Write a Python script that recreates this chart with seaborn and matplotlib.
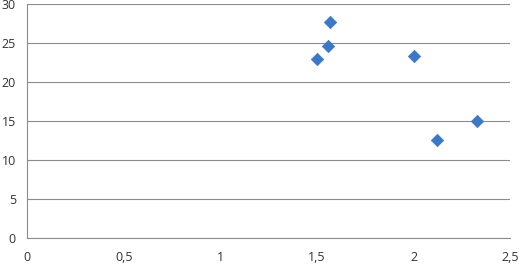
import matplotlib
matplotlib.use("Agg")
import matplotlib.pyplot as plt
import seaborn as sns
import pandas as pd
from matplotlib.ticker import FuncFormatter

x_values = [1.57, 1.56, 1.50, 2.00, 2.33, 2.12]
y_values = [27.7, 24.6, 23.0, 23.3, 15.0, 12.6]
x_ticks = [0, 0.5, 1, 1.5, 2, 2.5]
y_ticks = [0, 5, 10, 15, 20, 25, 30]

df = pd.DataFrame({"x": x_values, "y": y_values})

sns.set_theme(style="white")
plt.rcParams['font.family'] = ['Open Sans', 'DejaVu Sans']

fig = plt.figure(figsize=(5.19, 2.70), dpi=100)
ax = fig.add_axes([0.052, 0.117, 0.931, 0.868])

sns.scatterplot(data=df, x="x", y="y", ax=ax, marker="D", s=40,
                color="#3b78c6", edgecolor="#3b78c6", linewidth=0.5, zorder=3)

ax.set_xlim(0, 2.5)
ax.set_ylim(0, 30)
ax.set_xticks(x_ticks)
ax.set_yticks(y_ticks)
fmt = FuncFormatter(lambda v, p: ("%g" % v).replace(".", ","))
ax.xaxis.set_major_formatter(fmt)
ax.yaxis.set_major_formatter(fmt)
ax.set_xlabel("")
ax.set_ylabel("")

ax.yaxis.grid(True, color="#8c8c8c", linewidth=0.8)
ax.xaxis.grid(False)
for s in ["top", "right"]:
    ax.spines[s].set_visible(False)
for s in ["left", "bottom"]:
    ax.spines[s].set_color("#8c8c8c")
    ax.spines[s].set_linewidth(0.8)

ax.tick_params(axis="both", which="major", direction="out", length=3, width=0.8,
               color="#8c8c8c", labelsize=9, labelcolor="#333333", pad=5)
ax.tick_params(axis="x", pad=6)
for lbl in ax.get_yticklabels():
    lbl.set_clip_on(False)

fig.savefig("out.png", dpi=100)
